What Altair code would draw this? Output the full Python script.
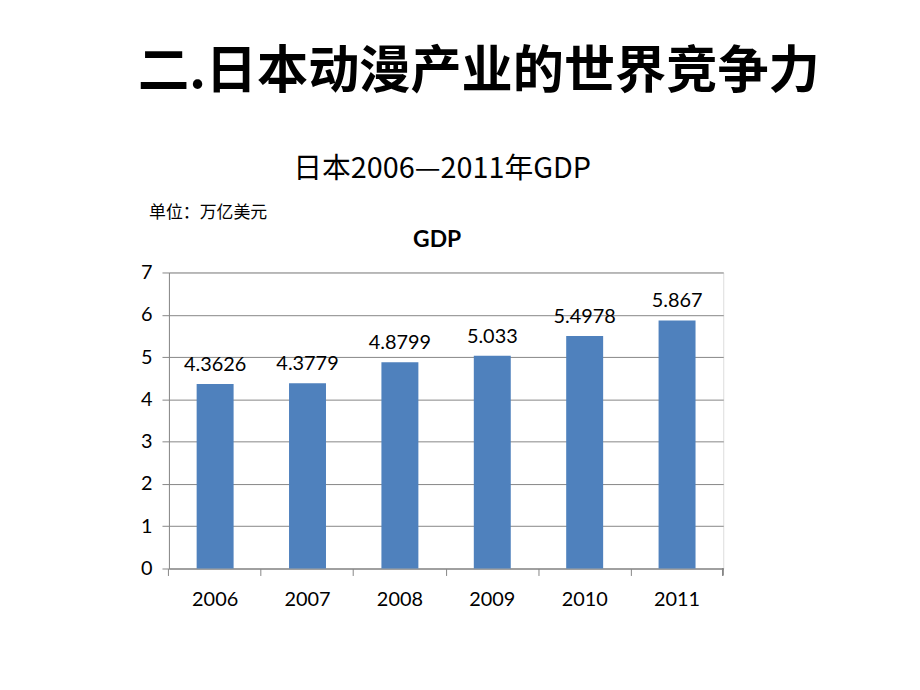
import altair as alt
import pandas as pd

years = ["2006", "2007", "2008", "2009", "2010", "2011"]
gdp = [4.3626, 4.3779, 4.8799, 5.033, 5.4978, 5.867]
gdp_labels = ["4.3626", "4.3779", "4.8799", "5.033", "5.4978", "5.867"]

slide_title = "二.日本动漫产业的世界竞争力"
sub_title = "日本2006—2011年GDP"
unit_text = "单位：万亿美元"
chart_title = "GDP"

df = pd.DataFrame({"year": years, "gdp": gdp, "label": gdp_labels})

W, H = 558, 298
LATIN = "Lato"
CJK = "Noto Sans CJK SC"

xenc = alt.X("year:N", sort=years, title=None,
             scale=alt.Scale(paddingInner=0.6, paddingOuter=0.3),
             axis=alt.Axis(labelAngle=0, labelFontSize=20, labelFont=LATIN,
                           labelColor="#000000", labelPadding=14,
                           domainColor="#868686", tickColor="#868686",
                           tickSize=7, bandPosition=-0.75, grid=False))
yenc = alt.Y("gdp:Q", title=None,
             scale=alt.Scale(domain=[0, 7], nice=False),
             axis=alt.Axis(values=[0, 1, 2, 3, 4, 5, 6, 7], labelFontSize=20,
                           labelFont=LATIN, labelColor="#000000", labelPadding=10,
                           domainColor="#868686", tickColor="#868686", tickSize=7,
                           gridColor="#868686", gridWidth=1))

bars = alt.Chart(df).mark_bar(color="#4F81BD").encode(x=xenc, y=yenc)
labels = alt.Chart(df).mark_text(baseline="bottom", dy=-9, fontSize=20,
                                 font=LATIN, color="#000000").encode(
    x=alt.X("year:N", sort=years), y="gdp:Q", text="label:N")

right_tick = alt.Chart(df).mark_rule(color="#868686").encode(
    x=alt.value(W - 0.5), y=alt.value(H), y2=alt.value(H + 7))

def txt(s, x, y, size, weight="normal", align="center", font=CJK):
    return alt.Chart(pd.DataFrame({"t": [s]})).mark_text(
        fontSize=size, fontWeight=weight, align=align, baseline="alphabetic",
        font=font, color="#000000").encode(
        x=alt.value(x), y=alt.value(y), text="t:N")

t1 = txt(slide_title, 312, -186, 51.5, weight="bold")
t2 = txt(sub_title, 275, -95, 29)
t3 = txt(unit_text, -20, -55, 17, align="left")
t4 = txt(chart_title, 270, -26, 23, weight="bold", font=LATIN)

chart = alt.layer(bars, labels, right_tick, t1, t2, t3, t4).properties(
    width=W, height=H,
    autosize=alt.AutoSizeParams(type="none"),
    padding={"left": 162, "top": 264, "right": 190, "bottom": 112},
).configure_view(stroke=None).configure(background="#ffffff")

chart.save("out.html", embed_options={"renderer": "svg", "actions": False})
